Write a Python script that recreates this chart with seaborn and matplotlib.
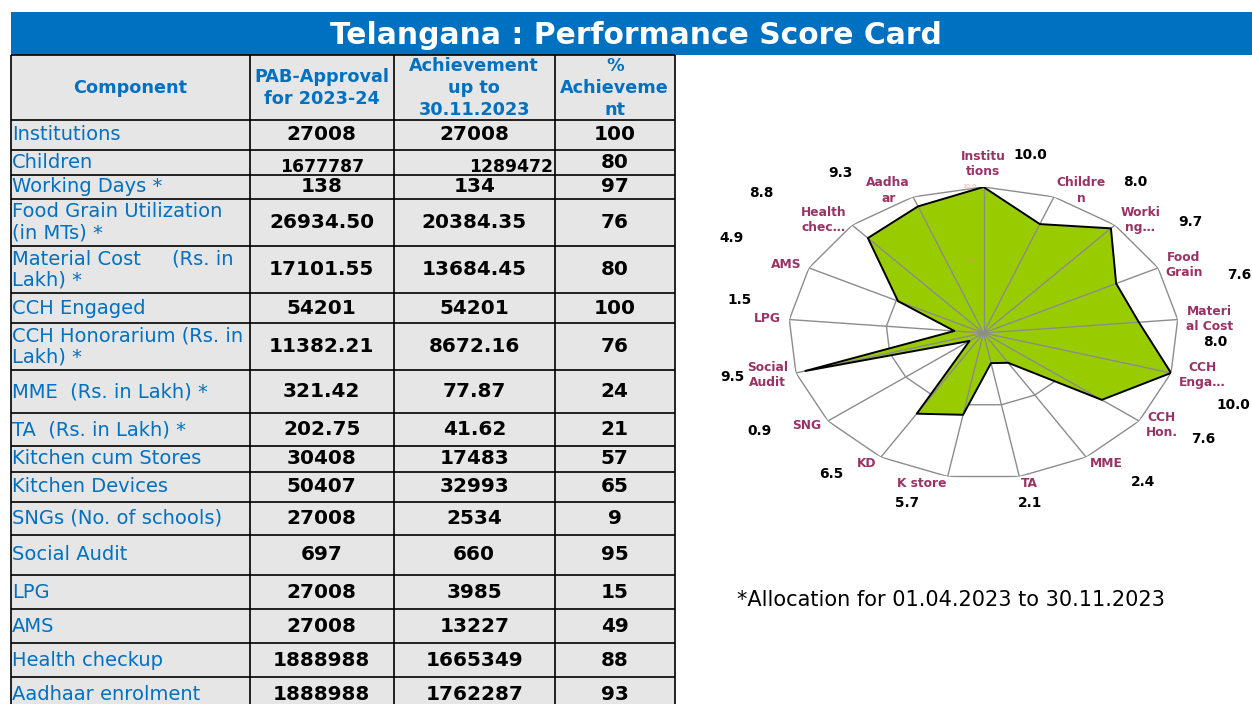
import numpy as np
import matplotlib
matplotlib.use("Agg")
import matplotlib.pyplot as plt
from matplotlib.patches import Rectangle
import seaborn as sns

# ---------------- data ----------------
title = "Telangana : Performance Score Card"
header_lines = [["Component"], ["PAB-Approval", "for 2023-24"],
                ["Achievement", "up to", "30.11.2023"], ["%", "Achieveme", "nt"]]
components = ["Institutions", "Children", "Working Days *",
              "Food Grain Utilization\n(in MTs) *", "Material Cost     (Rs. in\nLakh) *",
              "CCH Engaged", "CCH Honorarium (Rs. in\nLakh) *", "MME  (Rs. in Lakh) *",
              "TA  (Rs. in Lakh) *", "Kitchen cum Stores", "Kitchen Devices",
              "SNGs (No. of schools)", "Social Audit", "LPG", "AMS", "Health checkup",
              "Aadhaar enrolment"]
pab_approval = ["27008", "1677787", "138", "26934.50", "17101.55", "54201", "11382.21",
                "321.42", "202.75", "30408", "50407", "27008", "697", "27008", "27008",
                "1888988", "1888988"]
achievement = ["27008", "1289472", "134", "20384.35", "13684.45", "54201", "8672.16",
               "77.87", "41.62", "17483", "32993", "2534", "660", "3985", "13227",
               "1665349", "1762287"]
pct_achievement = [100, 80, 97, 76, 80, 100, 76, 24, 21, 57, 65, 9, 95, 15, 49, 88, 93]

radar_labels = ["Institu\ntions", "Childre\nn", "Worki\nng\u2026", "Food\nGrain",
                "Materi\nal Cost", "CCH\nEnga\u2026", "CCH\nHon.", "MME", "TA", "K store",
                "KD", "SNG", "Social\nAudit", "LPG", "AMS", "Health\nchec\u2026", "Aadha\nar"]
radar_scores = [10.0, 8.0, 9.7, 7.6, 8.0, 10.0, 7.6, 2.4, 2.1, 5.7, 6.5, 0.9, 9.5,
                1.5, 4.9, 8.8, 9.3]
radar_ticks = [0.0, 5.0, 10.0]
footnote = "*Allocation for 01.04.2023 to 30.11.2023"

# ---------------- layout (pixels) ----------------
W, H = 1252, 704
col_edges = [11, 249.5, 394, 554.5, 675]
row_edges = [55, 119.5, 150, 175, 199, 246, 293, 323, 370, 413, 446, 472, 501.5,
             535, 575, 609, 643, 677, 712]
# value-label positions around the radar (axes fraction offsets, ellipse-normalised)
value_label_pos = [(0.238, 1.219), (0.777, 1.036), (1.059, 0.760), (1.310, 0.397),
                   (1.187, -0.060), (1.283, -0.493), (1.126, -0.728), (0.818, -1.018),
                   (0.238, -1.164), (-0.392, -1.164), (-0.782, -0.966), (-1.151, -0.669),
                   (-1.290, -0.299), (-1.249, 0.226), (-1.290, 0.651), (-1.141, 0.961),
                   (-0.736, 1.098)]

BLUE = "#0070C0"
GRAY_BG = "#E6E6E6"
PURPLE = "#993366"
GREEN = "#99CC00"
GRID = "#8C8C8C"

sns.set_theme(style="white")
plt.rcParams["font.family"] = ["DejaVu Sans"]

fig = plt.figure(figsize=(W / 100, H / 100), dpi=100)
fig.patch.set_facecolor("white")

# ---------- background axes in pixel coordinates (title bar + table) ----------
bg = fig.add_axes([0, 0, 1, 1])
bg.set_xlim(0, W)
bg.set_ylim(H, 0)
bg.axis("off")

bg.add_patch(Rectangle((11, 11.5), W - 11, 43.5, facecolor=BLUE, edgecolor="none", zorder=1))
bg.text(636, 36, title, color="white", fontsize=21.4, fontweight="bold",
        ha="center", va="center", zorder=3)

tx0, tx1 = col_edges[0], col_edges[-1]
bg.add_patch(Rectangle((tx0, row_edges[0]), tx1 - tx0, row_edges[-1] - row_edges[0],
                       facecolor=GRAY_BG, edgecolor="none", zorder=1))
LW = 1.2
for x in col_edges:
    bg.plot([x, x], [row_edges[0], row_edges[-1]], color="black", lw=LW, zorder=2,
            solid_capstyle="butt")
for y in row_edges:
    bg.plot([tx0, tx1], [y, y], color="black", lw=LW, zorder=2, solid_capstyle="butt")

col_centers = [(col_edges[i] + col_edges[i + 1]) / 2 for i in range(4)]

# header
hy = 88
for ci, lines in enumerate(header_lines):
    n = len(lines)
    pitch = 21.7 if n == 3 else 22.6
    for li, line in enumerate(lines):
        y = hy + (li - (n - 1) / 2) * pitch
        bg.text(col_centers[ci], y, line, color=BLUE, fontsize=12.7, fontweight="bold",
                ha="center", va="center", zorder=3)

# body
for ri in range(len(components)):
    y0, y1 = row_edges[ri + 1], row_edges[ri + 2]
    yc = (y0 + y1) / 2
    lines = components[ri].split("\n")
    n = len(lines)
    for li, line in enumerate(lines):
        y = yc + (li - (n - 1) / 2) * 21.7
        bg.text(12, y, line, color=BLUE, fontsize=14, ha="left", va="center", zorder=3)
    if ri == 1:
        bg.text(col_centers[1], yc + 4.5, pab_approval[ri], fontsize=12.4, fontweight="bold",
                ha="center", va="center", color="black", zorder=3)
        bg.text(col_edges[3] - 1.5, yc + 4.5, achievement[ri], fontsize=12.4, fontweight="bold",
                ha="right", va="center", color="black", zorder=3)
    else:
        bg.text(col_centers[1], yc, pab_approval[ri], fontsize=14.4, fontweight="bold",
                ha="center", va="center", color="black", zorder=3)
        bg.text(col_centers[2], yc, achievement[ri], fontsize=14.4, fontweight="bold",
                ha="center", va="center", color="black", zorder=3)
    bg.text(col_centers[3], yc, str(pct_achievement[ri]), fontsize=14.4, fontweight="bold",
            ha="center", va="center", color="black", zorder=3)

bg.text(737, 600, footnote, fontsize=15, color="black", ha="left", va="center", zorder=3)

# ---------------- radar chart ----------------
cx, cy, rx, ry = 983.5, 333.0, 195.0, 146.0
ax = fig.add_axes([(cx - rx) / W, (H - (cy + ry)) / H, 2 * rx / W, 2 * ry / H],
                  projection="polar")
ax.set_aspect("auto")
ax.set_theta_zero_location("N")
ax.set_theta_direction(-1)
ax.set_ylim(0, 10)
ax.grid(False)
ax.spines["polar"].set_visible(False)
ax.set_xticks([])
ax.set_yticks([])
ax.patch.set_alpha(0)

n = len(radar_scores)
theta = np.linspace(0, 2 * np.pi, n, endpoint=False)
theta_c = np.append(theta, theta[0])
scores_c = np.append(radar_scores, radar_scores[0])

for rv in [5.0, 10.0]:
    ax.plot(theta_c, np.full_like(theta_c, rv), color=GRID, lw=1.0, zorder=1)
ax.fill(theta_c, scores_c, color=GREEN, zorder=2, lw=0)
for t in theta:
    ax.plot([t, t], [0, 10], color=GRID, lw=1.0, zorder=3)
sns.lineplot(x=theta_c, y=scores_c, sort=False, estimator=None, color="black",
             lw=1.4, ax=ax, zorder=4)
ax.set_xlabel("")
ax.set_ylabel("")
ax.set_ylim(0, 10)

for rv in radar_ticks:
    ax.annotate(f"{rv:.1f}", xy=(0, rv), xytext=(-5.4, 0), textcoords="offset points",
                ha="right", va="center", fontsize=4.6, color="#F08080", alpha=0.75,
                zorder=5, annotation_clip=False)

px2pt = 0.72
for i, (t, lab) in enumerate(zip(theta, radar_labels)):
    s, c = np.sin(t), np.cos(t)
    if abs(s) < 0.1:
        ha, va = "center", ("bottom" if c > 0 else "top")
        off = (0, 9 * np.sign(c))
    else:
        ha = "left" if s > 0 else "right"
        va = "center"
        off = (8 * s, 7 * c)
    ax.annotate(lab, xy=(t, 10), xytext=(off[0] * px2pt, off[1] * px2pt),
                textcoords="offset points", ha=ha, va=va, multialignment="center",
                fontsize=8.8, fontweight="bold", color=PURPLE, linespacing=1.25,
                annotation_clip=False, zorder=6)

for v, (nx, ny) in zip(radar_scores, value_label_pos):
    ax.text(0.5 + 0.5 * nx, 0.5 + 0.5 * ny, f"{v:.1f}", transform=ax.transAxes,
            ha="center", va="center", fontsize=9.9, fontweight="bold", color="black",
            clip_on=False, zorder=6)

fig.savefig("out.png", dpi=100, facecolor="white")
